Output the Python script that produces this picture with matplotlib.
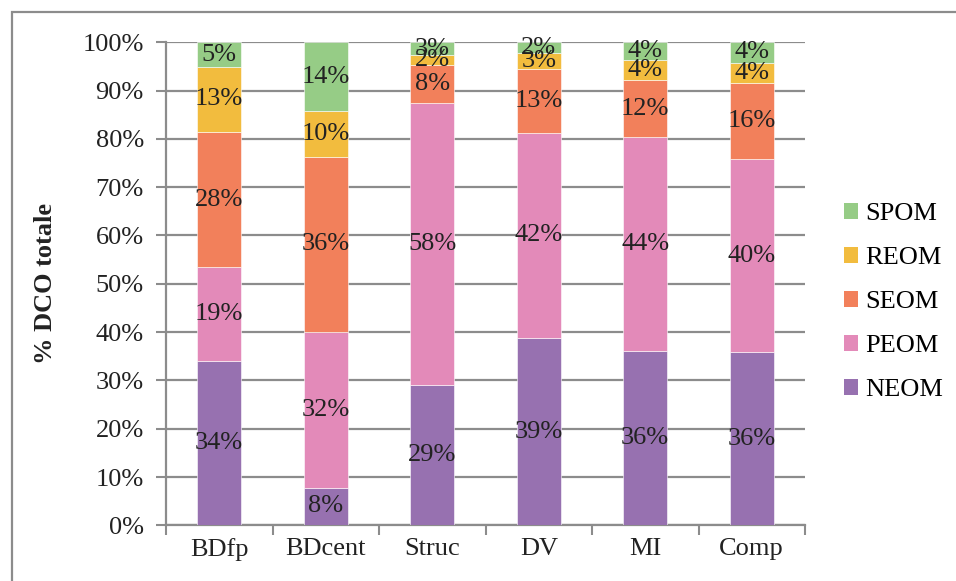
import matplotlib
matplotlib.use("Agg")
import matplotlib.pyplot as plt
from matplotlib.patches import Rectangle, Patch
import numpy as np

# ------------------- DADOS -------------------
categorias = ["BDfp", "BDcent", "Struc", "DV", "MI", "Comp"]
series = ["NEOM", "PEOM", "SEOM", "REOM", "SPOM"]

neom = [34.0, 7.8, 29.1, 38.8, 36.1, 35.9]
peom = [19.4, 32.3, 58.4, 42.4, 44.2, 39.9]
seom = [28.1, 36.1, 7.8, 13.2, 11.9, 15.8]
reom = [13.4, 9.6, 2.1, 3.3, 4.1, 4.2]
spom = [5.1, 14.2, 2.6, 2.3, 3.7, 4.2]

cores = ["#9771B0", "#E38AB9", "#F2805B", "#F2BC3E", "#96CC86"]
y_ticks = [0, 10, 20, 30, 40, 50, 60, 70, 80, 90, 100]

# ------------------- FIGURA -------------------
plt.rcParams["font.family"] = ["Liberation Serif", "DejaVu Serif"]
FS = 19
GRIS = "#8c8c8c"

fig = plt.figure(figsize=(9.56, 5.81), dpi=100)
ax = fig.add_axes([166 / 956, 1 - 525.3 / 581, 639 / 956, 483 / 581])

x = np.arange(len(categorias))
base = np.zeros(len(categorias))
for nome, valores, cor in zip(series, [neom, peom, seom, reom, spom], cores):
    valores = np.array(valores)
    ax.bar(x, valores, width=0.41, bottom=base, color=cor,
           edgecolor="white", linewidth=0.4, zorder=3)
    for xi, b, v in zip(x, base, valores):
        ax.text(xi, b + v / 2, f"{v:.0f}%", ha="center", va="center",
                fontsize=FS, color="#222222", zorder=4)
    base += valores

ax.set_xlim(-0.5, len(categorias) - 0.5)
ax.set_ylim(0, 100)
ax.set_yticks(y_ticks)
ax.set_yticklabels([f"{t}%" for t in y_ticks], fontsize=FS, color="#222222")
ax.set_xticks(x)
ax.set_xticklabels(categorias, fontsize=FS, color="#222222")
ax.set_xticks(np.arange(-0.5, len(categorias)), minor=True)
ax.tick_params(axis="x", which="major", length=0, pad=9)
ax.tick_params(axis="x", which="minor", length=7, width=1.5, color=GRIS)
ax.tick_params(axis="y", length=7, width=1.5, color=GRIS, pad=9)

ax.grid(axis="y", color=GRIS, linewidth=1.6, zorder=0)
ax.set_axisbelow(True)
for s in ["top", "right"]:
    ax.spines[s].set_visible(False)
for s in ["left", "bottom"]:
    ax.spines[s].set_color(GRIS)
    ax.spines[s].set_linewidth(1.6)

ax.set_ylabel("% DCO totale", fontsize=FS, fontweight="bold", color="#222222")
ax.yaxis.set_label_coords((57 - 166) / 639, 0.5)

# legenda (ordem inversa)
handles = [Patch(facecolor=c, edgecolor="none") for c in cores][::-1]
fig.legend(handles, series[::-1], loc="center left",
           bbox_to_anchor=(820 / 956, 1 - 302 / 581), frameon=False,
           fontsize=FS, handlelength=0.55, handleheight=0.55,
           handletextpad=0.25, labelspacing=0.82)

# moldura externa
fig.add_artist(Rectangle((12 / 956, -0.1), 1.2, 1.1 - 12 / 581 + 0.0,
                         transform=fig.transFigure, fill=False,
                         edgecolor=GRIS, linewidth=1.6, clip_on=False))

fig.savefig("out.png", dpi=100)
